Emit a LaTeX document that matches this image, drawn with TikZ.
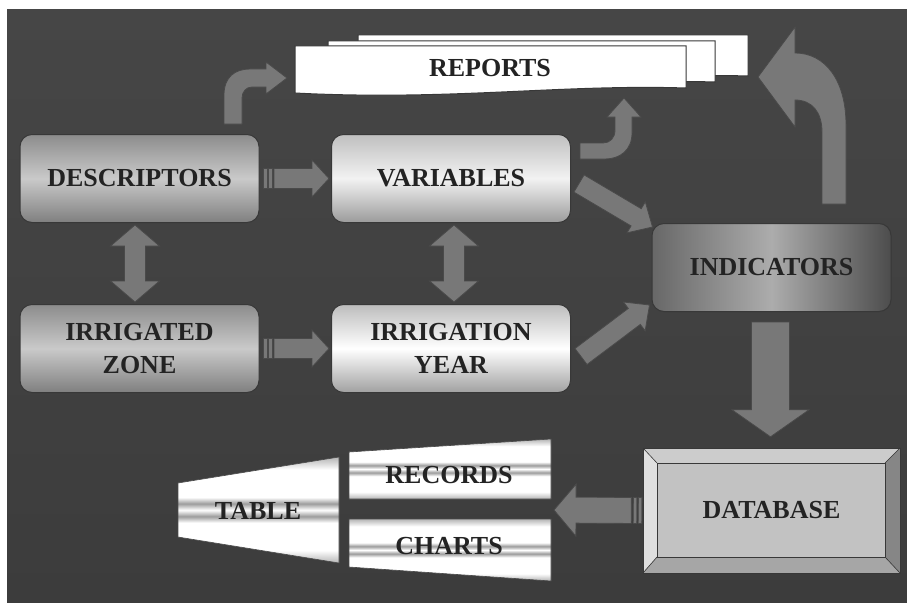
\documentclass[tikz,border=0pt]{standalone}
\usepackage{fontspec}
\setmainfont{Liberation Serif}
\usetikzlibrary{calc}

\definecolor{bgtop}{HTML}{464646}
\definecolor{bgbot}{HTML}{3C3C3C}
\definecolor{arrowgray}{HTML}{787878}
\definecolor{edgegray}{HTML}{4A4A4A}
\definecolor{boxedge}{HTML}{383838}
\definecolor{txt}{HTML}{232323}
\definecolor{metaldark}{HTML}{B4B4B4}
\definecolor{metalmid}{HTML}{9C9C9C}

\pgfdeclareverticalshading{metal}{100bp}{color(0bp)=(metaldark); color(25bp)=(metaldark);
  color(31bp)=(white); color(44bp)=(white); color(47bp)=(metalmid); color(50bp)=(white);
  color(53bp)=(metalmid); color(56bp)=(white); color(69bp)=(white); color(75bp)=(metaldark);
  color(100bp)=(metaldark)}

\tikzset{
  box/.style={draw=boxedge, line width=1pt, rounded corners=12pt,
    minimum width=239pt, minimum height=88pt, align=center, inner sep=0pt,
    font=\bfseries\fontsize{26}{33}\selectfont, text=txt},
  lbl/.style={font=\bfseries\fontsize{26}{33}\selectfont, text=txt, inner sep=0pt, align=center},
  arrowfill/.style={fill=arrowgray, draw=edgegray, line width=0.8pt},
  sheet/.style={fill=white, draw=boxedge, line width=1pt},
  metalshape/.style={shading=metal, draw=edgegray, line width=0.6pt},
}

% block arrow: from, to, half shaft, half head, head length
\newcommand{\blockarrow}[5]{%
  \coordinate (ba-a) at (#1);
  \coordinate (ba-b) at (#2);
  \coordinate (ba-h) at ($(ba-b)!#5!(ba-a)$);
  \draw[arrowfill] ($(ba-a)!#3!90:(ba-b)$) -- ($(ba-h)!#3!-90:(ba-a)$)
    -- ($(ba-h)!#4!-90:(ba-a)$) -- (ba-b) -- ($(ba-h)!#4!90:(ba-a)$)
    -- ($(ba-h)!#3!90:(ba-a)$) -- ($(ba-a)!#3!-90:(ba-b)$) -- cycle;
}
% same with two stripes at the tail
\newcommand{\stripedarrow}[5]{%
  \coordinate (sa-a) at (#1);
  \coordinate (sa-b) at (#2);
  \coordinate (sa-c) at ($(sa-a)!3.5pt!(sa-b)$);
  \coordinate (sa-d) at ($(sa-a)!5pt!(sa-b)$);
  \coordinate (sa-e) at ($(sa-a)!8.5pt!(sa-b)$);
  \coordinate (sa-f) at ($(sa-a)!10.5pt!(sa-b)$);
  \draw[arrowfill] ($(sa-a)!#3!90:(sa-b)$) -- ($(sa-c)!#3!-90:(sa-a)$)
    -- ($(sa-c)!#3!90:(sa-a)$) -- ($(sa-a)!#3!-90:(sa-b)$) -- cycle;
  \draw[arrowfill] ($(sa-d)!#3!90:(sa-b)$) -- ($(sa-e)!#3!-90:(sa-a)$)
    -- ($(sa-e)!#3!90:(sa-a)$) -- ($(sa-d)!#3!-90:(sa-b)$) -- cycle;
  \blockarrow{sa-f}{sa-b}{#3}{#4}{#5}
}
% double headed block arrow
\newcommand{\dblarrow}[5]{%
  \coordinate (da-a) at (#1);
  \coordinate (da-b) at (#2);
  \coordinate (da-p) at ($(da-a)!#5!(da-b)$);
  \coordinate (da-q) at ($(da-b)!#5!(da-a)$);
  \draw[arrowfill] (da-a) -- ($(da-p)!#4!90:(da-b)$) -- ($(da-p)!#3!90:(da-b)$)
    -- ($(da-q)!#3!-90:(da-a)$) -- ($(da-q)!#4!-90:(da-a)$) -- (da-b)
    -- ($(da-q)!#4!90:(da-a)$) -- ($(da-q)!#3!90:(da-a)$)
    -- ($(da-p)!#3!-90:(da-b)$) -- ($(da-p)!#4!-90:(da-b)$) -- cycle;
}

\begin{document}
\begin{tikzpicture}[x=1pt,y=1pt]
  \useasboundingbox (0,0) rectangle (907,-602);
  \shade[top color=bgtop, bottom color=bgbot] (7,-10) rectangle (907,-602);

  % report sheets
  \draw[sheet] (358,-35) -- (748,-35) -- (748,-76) .. controls (650,-73) and (520,-86) .. (358,-80) -- cycle;
  \draw[sheet] (328,-41) -- (715,-41) -- (715,-82) .. controls (620,-79) and (490,-92) .. (328,-86) -- cycle;
  \draw[sheet] (295,-46) -- (686,-46) -- (686,-88) .. controls (560,-84) and (450,-101) .. (295,-93) -- cycle;
  \node[lbl] (rep) at (490,-68) {REPORTS};

  % boxes
  \node[box, top color=gray!90!white, bottom color=gray, middle color=gray!42!white] (desc) at (139.5,-178.5) {DESCRIPTORS};
  \node[box, top color=gray!50!white, bottom color=gray!78!white, middle color=gray!10!white] (var) at (451,-178.5) {VARIABLES};
  \node[box, top color=gray!90!white, bottom color=gray, middle color=gray!42!white] (zone) at (139.5,-348.5) {IRRIGATED\\ZONE};
  \node[box, top color=gray!52!white, bottom color=gray!74!white, middle color=white] (year) at (451,-348.5) {IRRIGATION\\YEAR};
  \node[box, left color=gray!75!black!95, right color=gray!60!black, middle color=gray!65!white] (ind) at (771.5,-267.5) {INDICATORS};

  % database
  \node[lbl, minimum width=257pt, minimum height=125pt] (db) at (771.5,-510.5) {DATABASE};
  \fill[gray!40!white] (643,-448) -- (900,-448) -- (885,-463) -- (657,-463) -- cycle;
  \fill[gray!25!white] (643,-448) -- (657,-463) -- (657,-557) -- (643,-573) -- cycle;
  \fill[gray!95!white] (900,-448) -- (885,-463) -- (885,-557) -- (900,-573) -- cycle;
  \fill[gray!70!white] (643,-573) -- (657,-557) -- (885,-557) -- (900,-573) -- cycle;
  \filldraw[fill=gray!48!white, draw=boxedge, line width=0.8pt] (657,-463) rectangle (885,-557);
  \draw[boxedge, line width=1pt] (643,-448) rectangle (900,-573);
  \draw[boxedge, line width=0.6pt] (643,-448) -- (657,-463) (900,-448) -- (885,-463)
    (643,-573) -- (657,-557) (900,-573) -- (885,-557);
  \node[lbl] at (db) {DATABASE};

  % table, records, charts
  \draw[metalshape] (178,-483) -- (339,-457) -- (339,-563) -- (178,-537) -- cycle;
  \draw[metalshape] (349,-452) -- (551,-439) -- (551,-499) -- (349,-499) -- cycle;
  \draw[metalshape] (349,-519) -- (551,-519) -- (551,-581) -- (349,-567) -- cycle;
  \node[lbl] (table) at (258,-511) {TABLE};
  \node[lbl] (recs) at (449,-475) {RECORDS};
  \node[lbl] (charts) at (449,-546) {CHARTS};
  \coordinate (tblgap) at (554,-510);

  % connectors
  \stripedarrow{$(desc.east)+(4,0)$}{$(var.west)+(-2,0)$}{10pt}{18.5pt}{17pt}
  \stripedarrow{$(zone.east)+(4,0)$}{$(year.west)+(-2,0)$}{10pt}{18.5pt}{17pt}
  \dblarrow{$(desc.south)+(-4.5,-2)$}{$(zone.north)+(-4.5,2)$}{10.5pt}{24.5pt}{21pt}
  \dblarrow{$(var.south)+(3,-2)$}{$(year.north)+(3,2)$}{10.5pt}{24.5pt}{21pt}
  \blockarrow{$(var.east)+(8,-5)$}{$(ind.north west)+(1,-4)$}{10pt}{18pt}{19pt}
  \blockarrow{$(year.east)+(10,-8)$}{$(ind.south west)+(-2,7)$}{10pt}{18pt}{19pt}
  \blockarrow{$(ind.south)+(-1,-10)$}{$(db.north)+(-1,11)$}{19pt}{38.5pt}{27pt}
  \stripedarrow{$(db.west)+(-1,0)$}{tblgap}{13pt}{26pt}{22pt}

  % bent arrows up to the reports
  \draw[arrowfill] (224,-124) -- (224,-95) .. controls (224,-77) and (235,-69) .. (250,-69)
    -- (266,-69) -- (266,-62) -- (287,-78) -- (266,-94) -- (266,-87) -- (252,-87)
    .. controls (246,-87) and (242,-92) .. (242,-98) -- (242,-124) -- cycle;
  \draw[arrowfill] (580,-143) -- (603,-143) .. controls (610,-143) and (615,-138) .. (615,-130)
    -- (615,-117) -- (607,-117) -- (624,-98) -- (641,-117) -- (632,-117) -- (632,-133)
    .. controls (632,-150) and (620,-159) .. (605,-159) -- (580,-159) -- cycle;
  \draw[arrowfill] (846,-204) -- (846,-125) .. controls (846,-80) and (825,-53) .. (795,-53)
    -- (795,-27) -- (758,-77) -- (795,-127) -- (795,-100)
    .. controls (812,-100) and (822,-112) .. (822,-132) -- (822,-204) -- cycle;
\end{tikzpicture}
\end{document}
